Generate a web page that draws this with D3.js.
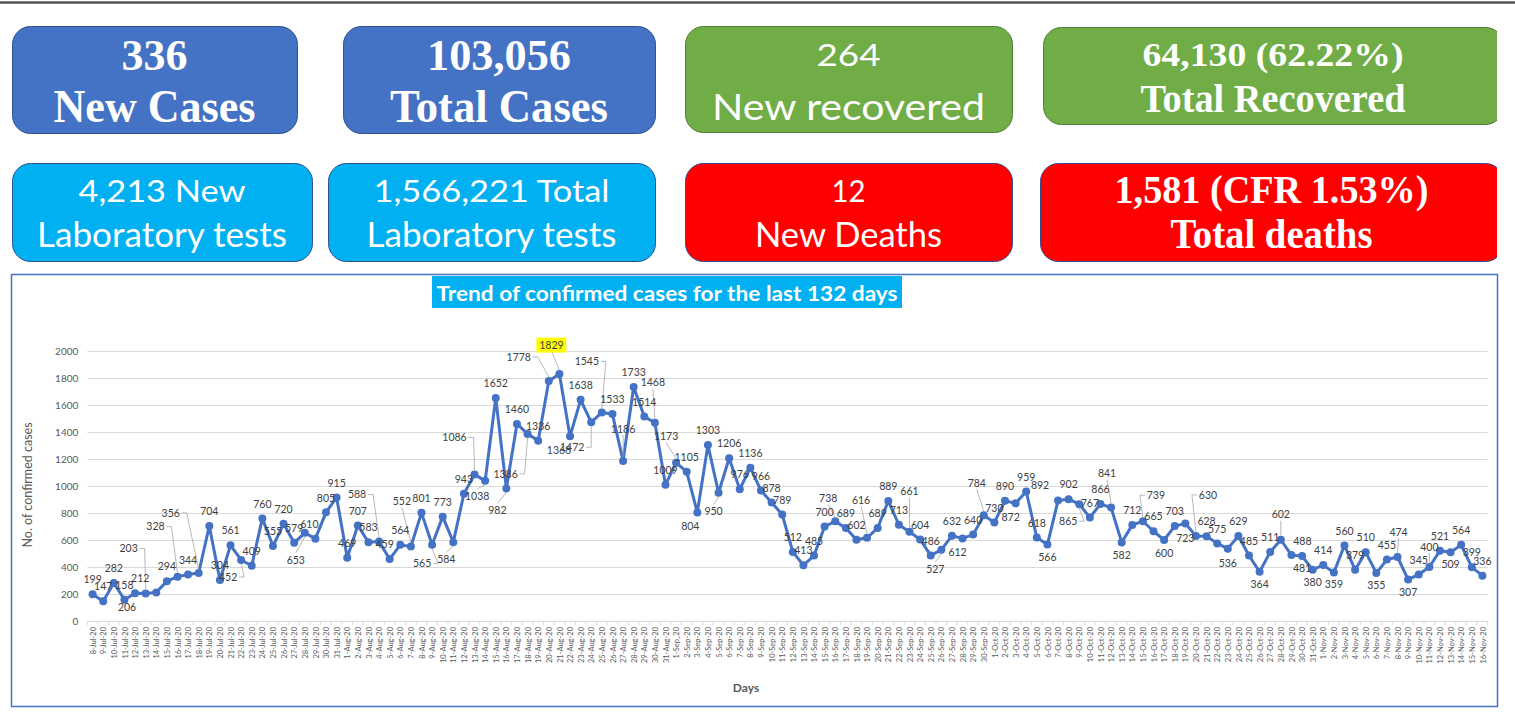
<!DOCTYPE html>
<html lang="en">
<head>
<meta charset="UTF-8" />
<title>Daily situation update</title>
<script src="https://d3js.org/d3.v7.min.js"></script>
<style>
  body { margin: 0; background: #fff; }
  svg { display: block; }
</style>
</head>
<body>
<svg id="chart" width="1515" height="712"></svg>
<script>
// Summary cards
const cardLine1 = ["336", "103,056", "264", "64,130 (62.22%)", "4,213 New", "1,566,221 Total", "12", "1,581 (CFR 1.53%)"];
const cardLine2 = ["New Cases", "Total Cases", "New recovered", "Total Recovered", "Laboratory tests", "Laboratory tests", "New Deaths", "Total deaths"];

// Daily confirmed cases, 8-Jul-20 .. 16-Nov-20
const days = [
  "8-Jul-20","9-Jul-20","10-Jul-20","11-Jul-20","12-Jul-20","13-Jul-20","14-Jul-20","15-Jul-20","16-Jul-20","17-Jul-20",
  "18-Jul-20","19-Jul-20","20-Jul-20","21-Jul-20","22-Jul-20","23-Jul-20","24-Jul-20","25-Jul-20","26-Jul-20","27-Jul-20",
  "28-Jul-20","29-Jul-20","30-Jul-20","31-Jul-20",
  "1-Aug-20","2-Aug-20","3-Aug-20","4-Aug-20","5-Aug-20","6-Aug-20","7-Aug-20","8-Aug-20","9-Aug-20","10-Aug-20",
  "11-Aug-20","12-Aug-20","13-Aug-20","14-Aug-20","15-Aug-20","16-Aug-20","17-Aug-20","18-Aug-20","19-Aug-20","20-Aug-20",
  "21-Aug-20","22-Aug-20","23-Aug-20","24-Aug-20","25-Aug-20","26-Aug-20","27-Aug-20","28-Aug-20","29-Aug-20","30-Aug-20","31-Aug-20",
  "1-Sep_20","2-Sep-20","3-Sep-20","4-Sep-20","5-Sep-20","6-Sep-20","7-Sep-20","8-Sep-20","9-Sep-20","10-Sep-20",
  "11-Sep-20","12-Sep-20","13-Sep-20","14-Sep-20","15-Sep-20","16-Sep-20","17-Sep-20","18-Sep-20","19-Sep-20","20-Sep-20",
  "21-Sep-20","22-Sep-20","23-Sep-20","24-Sep-20","25-Sep-20","26-Sep-20","27-Sep-20","28-Sep-20","29-Sep-20","30-Sep-20",
  "1-Oct-20","2-Oct-20","3-Oct-20","4-Oct-20","5-Oct-20","6-Oct-20","7-Oct-20","8-Oct-20","9-Oct-20","10-Oct-20",
  "11-Oct-20","12-Oct-20","13-Oct-20","14-Oct-20","15-Oct-20","16-Oct-20","17-Oct-20","18-Oct-20","19-Oct-20","20-Oct-20",
  "21-Oct-20","22-Oct-20","23-Oct-20","24-Oct-20","25-Oct-20","26-Oct-20","27-Oct-20","28-Oct-20","29-Oct-20","30-Oct-20","31-Oct-20",
  "1-Nov-20","2-Nov-20","3-Nov-20","4-Nov-20","5-Nov-20","6-Nov-20","7-Nov-20","8-Nov-20","9-Nov-20","10-Nov-20",
  "11-Nov-20","12-Nov-20","13-Nov-20","14-Nov-20","15-Nov-20","16-Nov-20"
];
const cases = [
  199,147,282,158,206,203,212,294,328,344,356,704,304,561,452,409,760,555,720,579,653,610,805,915,
  469,707,583,588,459,564,552,801,565,773,584,943,1086,1038,1652,982,1460,1386,1336,1778,1829,1368,1638,1472,1545,1533,1186,1733,1514,1468,1009,
  1173,1105,804,1303,950,1206,976,1136,966,878,789,512,413,485,700,738,689,602,616,689,889,713,661,604,486,527,632,612,640,784,
  730,890,872,959,618,566,892,902,865,767,866,841,582,712,739,665,600,703,723,630,628,575,536,629,485,364,511,602,488,481,380,
  414,359,560,379,510,355,455,474,307,345,400,521,509,564,399,336
];
const yTicks = [0, 200, 400, 600, 800, 1000, 1200, 1400, 1600, 1800, 2000];
const highlightDay = "21-Aug-20";

// card layout: box, colours, and per-line baseline / font size / fitted width
const cardLayout = [
  {x: 12,   y: 26,  w: 285, h: 107, fill: "#4472C4", stroke: "#2F528F", serif: true,  l1: [69.5, 45, 66],  l2: [121.7, 47, 202]},
  {x: 343,  y: 26,  w: 312, h: 107, fill: "#4472C4", stroke: "#2F528F", serif: true,  l1: [69.5, 45, 144], l2: [121.7, 47, 218]},
  {x: 685,  y: 26,  w: 327, h: 106, fill: "#70AD47", stroke: "#507E32", serif: false, l1: [66, 31, 64],    l2: [120, 36, 273]},
  {x: 1043, y: 27,  w: 460, h: 97,  fill: "#70AD47", stroke: "#507E32", serif: true,  l1: [66, 34, 261],   l2: [111.7, 39, 265]},
  {x: 12,   y: 163, w: 300, h: 98,  fill: "#00B0F0", stroke: "#2F528F", serif: false, l1: [201.7, 30, 167], l2: [246.7, 35, 250]},
  {x: 328,  y: 163, w: 327, h: 98,  fill: "#00B0F0", stroke: "#2F528F", serif: false, l1: [201.7, 30, 236], l2: [246.7, 35, 250]},
  {x: 685,  y: 163, w: 327, h: 98,  fill: "#FF0000", stroke: "#2F528F", serif: false, l1: [201.7, 30, 34],  l2: [246.7, 35, 187]},
  {x: 1040, y: 163, w: 463, h: 98,  fill: "#FF0000", stroke: "#2F528F", serif: true,  l1: [202.7, 39, 314], l2: [248.3, 42, 202]}
];

// data label placement tweaks: index -> [dx, dy, leader line]
const labelPlacement = {
  4: [-8, 14, 0], 5: [-17, -45, 1], 6: [-16, -14, 0], 8: [-22, -50, 1], 10: [-28, -60, 1],
  14: [-13, 17, 1], 20: [-9, 27, 1], 21: [-6, -14, 0], 27: [-22, -47, 1], 28: [-5, -15, 0],
  30: [-9, -45, 1], 32: [-10, 19, 1], 34: [-7, 17, 1], 36: [-20, -37, 1], 37: [-8, 15, 1],
  39: [-9, 22, 1], 41: [-22, 40, 1], 43: [-30, -24, 1], 44: [-8, -29, 1], 45: [-11, 14, 0],
  47: [-19, 25, 1], 48: [-15, -51, 1], 50: [0, -32, 1], 53: [-2, -40, 1], 55: [-10, -26, 1],
  57: [-7, 14, 0], 59: [-5, 19, 1], 70: [-7, -23, 1], 73: [-6, -38, 1], 77: [0, -40, 1],
  80: [-6, 19, 1], 82: [-5, 14, 0], 84: [-7, -32, 1], 87: [-5, 14, 0], 90: [0, 13, 0],
  91: [-18, -15, 0], 93: [-11, 17, 1], 96: [-4, -34, 1], 97: [0, 13, 0], 99: [13, -26, 1],
  101: [0, 13, 0], 103: [0, 15, 0], 104: [12, -41, 1], 107: [0, 15, 0], 110: [0, 12, 0],
  112: [0, -25, 1], 113: [11, -14, 0], 114: [0, 12, 0], 115: [0, 13, 0], 117: [0, 12, 0],
  121: [0, 12, 0], 123: [1, -25, 1], 124: [0, 13, 0], 126: [0, -20, 1], 128: [0, 12, 0]
};

const svg = d3.select("#chart");
const sans = "Lato, 'Open Sans', sans-serif";
const serif = "'Liberation Serif', 'Times New Roman', serif";

// top rule
svg.append("line")
  .attr("x1", 0).attr("x2", 1515).attr("y1", 2.5).attr("y2", 2.5)
  .attr("stroke", "#555").attr("stroke-width", 2.5);

// cards (right-hand ones are cut by the page edge)
svg.append("clipPath").attr("id", "pageClip")
  .append("rect").attr("x", 0).attr("y", 0).attr("width", 1497).attr("height", 712);

const cards = svg.append("g").attr("clip-path", "url(#pageClip)")
  .selectAll("g")
  .data(cardLayout)
  .enter()
  .append("g");

cards.append("rect")
  .attr("x", d => d.x + 0.5).attr("y", d => d.y + 0.5)
  .attr("width", d => d.w).attr("height", d => d.h)
  .attr("rx", 18)
  .attr("fill", d => d.fill)
  .attr("stroke", d => d.stroke)
  .attr("stroke-width", 1);

[["l1", cardLine1], ["l2", cardLine2]].forEach(([key, texts]) => {
  cards.append("text")
    .attr("x", d => d.x + d.w / 2)
    .attr("y", d => d[key][0])
    .attr("text-anchor", "middle")
    .attr("fill", "#fff")
    .attr("font-family", d => d.serif ? serif : sans)
    .attr("font-weight", d => d.serif ? "bold" : "normal")
    .attr("font-size", d => d[key][1])
    .attr("textLength", d => d[key][2])
    .attr("lengthAdjust", "spacingAndGlyphs")
    .text((d, i) => texts[i]);
});

// chart panel
svg.append("rect")
  .attr("x", 11.5).attr("y", 274.5).attr("width", 1486).attr("height", 432)
  .attr("fill", "#fff").attr("stroke", "#4472C4").attr("stroke-width", 1.5);

svg.append("rect")
  .attr("x", 432).attr("y", 276).attr("width", 470).attr("height", 32)
  .attr("fill", "#00B0F0");
svg.append("text")
  .attr("x", 667).attr("y", 300.5)
  .attr("text-anchor", "middle")
  .attr("fill", "#fff")
  .attr("font-family", sans).attr("font-weight", "bold").attr("font-size", 21)
  .attr("textLength", 461).attr("lengthAdjust", "spacingAndGlyphs")
  .text("Trend of confirmed cases for the last 132 days");

const left = 87.3, right = 1487.7;
const x = d3.scalePoint().domain(days).range([left, right]).padding(0.5);
const xBand = d3.scaleBand().domain(days).range([left, right]);
const y = d3.scaleLinear().domain([0, 2000]).range([621, 351]);

// y axis + gridlines
const yAxis = svg.append("g")
  .attr("transform", `translate(${left},0)`)
  .call(d3.axisLeft(y).tickValues(yTicks).tickFormat(d3.format("d"))
    .tickSize(-(right - left)).tickPadding(9));
yAxis.select(".domain").remove();
yAxis.selectAll("line").attr("stroke", "#d9d9d9").attr("stroke-width", 1);
yAxis.selectAll("text")
  .attr("fill", "#595959").attr("font-family", sans).attr("font-size", 10);

// x axis
const xAxis = svg.append("g")
  .attr("transform", "translate(0,621)")
  .call(d3.axisBottom(x).tickSize(0));
xAxis.select(".domain").attr("stroke", "#d9d9d9");
xAxis.selectAll("text")
  .attr("transform", "rotate(-90)")
  .attr("text-anchor", "end")
  .attr("x", -6).attr("y", 0).attr("dy", "0.35em")
  .attr("fill", "#595959").attr("font-family", sans).attr("font-size", 7.5);

svg.append("g")
  .selectAll("line")
  .data(days.concat([null]))
  .enter()
  .append("line")
  .attr("x1", d => d === null ? right : xBand(d))
  .attr("x2", d => d === null ? right : xBand(d))
  .attr("y1", 621).attr("y2", 625)
  .attr("stroke", "#d9d9d9");

// axis titles
svg.append("text")
  .attr("transform", "translate(32,485) rotate(-90)")
  .attr("text-anchor", "middle")
  .attr("fill", "#595959").attr("font-family", sans).attr("font-size", 12.5)
  .text("No. of confirmed cases");
svg.append("text")
  .attr("x", 746).attr("y", 692)
  .attr("text-anchor", "middle")
  .attr("fill", "#595959").attr("font-family", sans).attr("font-weight", "bold").attr("font-size", 12)
  .text("Days");

// series
const points = days.map((d, i) => ({day: d, value: cases[i], i: i}));
const line = d3.line().x(d => x(d.day)).y(d => y(d.value));

svg.append("path")
  .datum(points)
  .attr("fill", "none")
  .attr("stroke", "#4472C4")
  .attr("stroke-width", 3)
  .attr("stroke-linejoin", "round")
  .attr("d", line);

svg.append("g")
  .selectAll("circle")
  .data(points)
  .enter()
  .append("circle")
  .attr("cx", d => x(d.day))
  .attr("cy", d => y(d.value))
  .attr("r", 4)
  .attr("fill", "#4472C4");

// data labels
const labelPos = d => {
  const p = labelPlacement[d.i] || [0, -14.5, 0];
  return {x: x(d.day) + p[0], y: y(d.value) + p[1], leader: p[2]};
};

const leaders = svg.append("g");
points.forEach(d => {
  const lp = labelPos(d);
  if (!lp.leader) return;
  const px = x(d.day), py = y(d.value);
  const hw = String(d.value).length * 3;
  const end = py + (py > lp.y ? -4 : 4);
  let path;
  if (Math.abs(px - lp.x) > hw) {
    const s = px > lp.x ? 1 : -1;
    const sx = lp.x + s * (hw + 2);
    path = `M${sx},${lp.y} h${s * 5} L${px},${end}`;
  } else {
    const sy = py > lp.y ? lp.y + 6 : lp.y - 7;
    path = `M${lp.x},${sy} L${px},${end}`;
  }
  leaders.append("path")
    .attr("d", path)
    .attr("fill", "none")
    .attr("stroke", "#a6a6a6")
    .attr("stroke-width", 0.8);
});

const hl = points.find(d => d.day === highlightDay);
const hlPos = labelPos(hl);
svg.append("rect")
  .attr("x", hlPos.x - 15).attr("y", hlPos.y - 7.5)
  .attr("width", 30).attr("height", 15)
  .attr("fill", "#FFFF00");

svg.append("g")
  .selectAll("text")
  .data(points)
  .enter()
  .append("text")
  .attr("x", d => labelPos(d).x)
  .attr("y", d => labelPos(d).y)
  .attr("dy", "0.35em")
  .attr("text-anchor", "middle")
  .attr("fill", "#404040")
  .attr("font-family", sans)
  .attr("font-size", 10.5)
  .text(d => d.value);
</script>
</body>
</html>
